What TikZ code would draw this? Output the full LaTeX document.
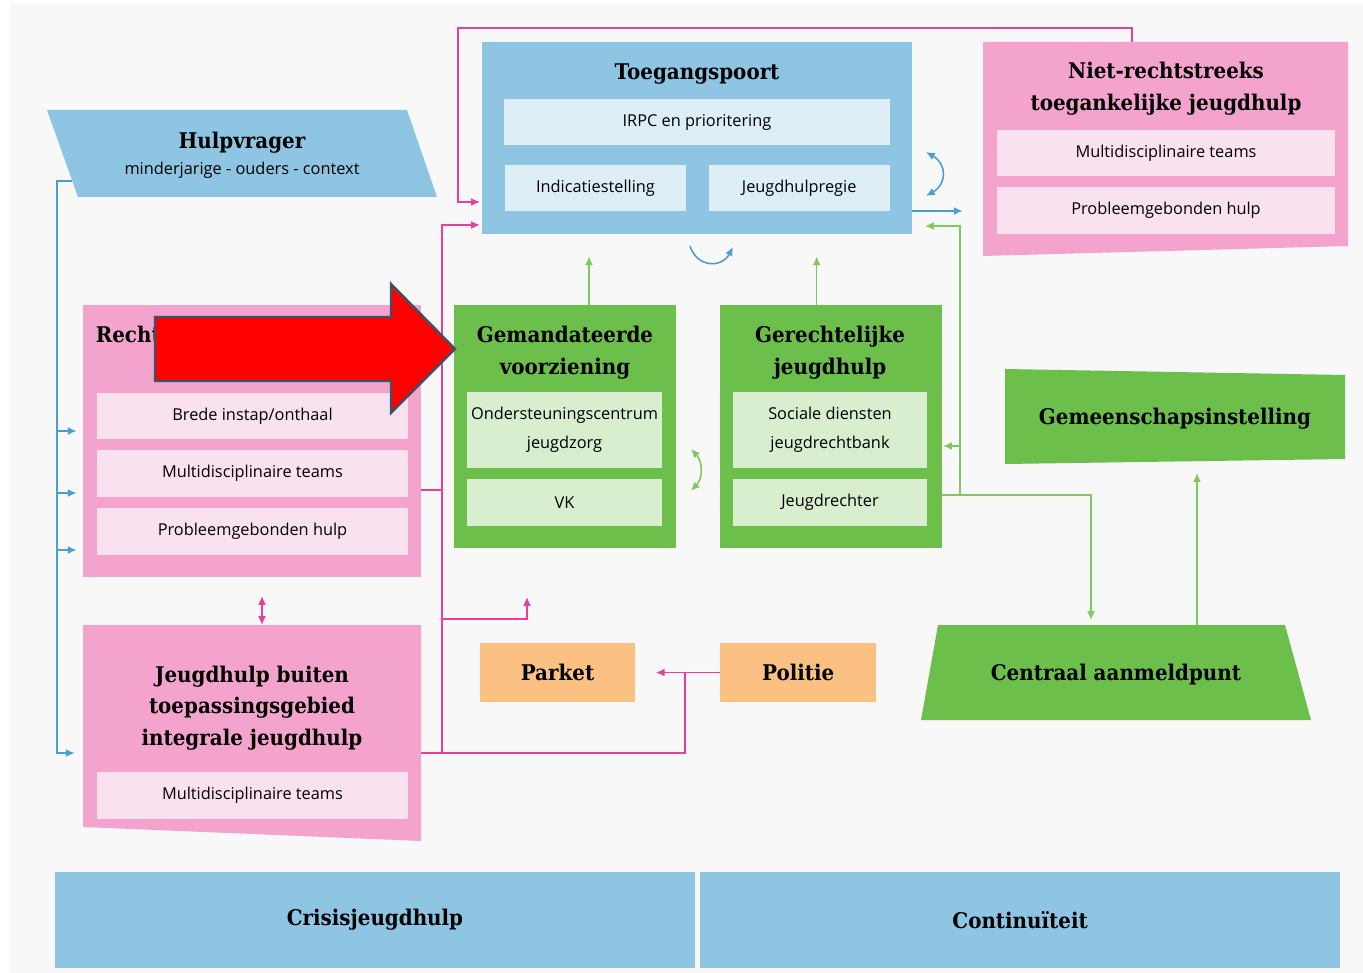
\documentclass[tikz,border=0pt]{standalone}
\usepackage{fontspec}
\setmainfont{Open Sans}
\newfontfamily\kopfont{DejaVu Serif}[FakeStretch=0.92]
\usetikzlibrary{positioning,arrows.meta}

\definecolor{tpblauw}{HTML}{8EC5E2}
\definecolor{tpblauwlicht}{HTML}{DDEEF7}
\definecolor{roze}{HTML}{F4A3CD}
\definecolor{rozelicht}{HTML}{FAE1EF}
\definecolor{groen}{HTML}{6CBF4B}
\definecolor{groenlicht}{HTML}{D9EDCF}
\definecolor{oranje}{HTML}{FBC183}
\definecolor{lijnroze}{HTML}{E8409A}
\definecolor{lijnblauw}{HTML}{4A9FD0}
\definecolor{lijngroen}{HTML}{80C95E}
\definecolor{achtergrond}{HTML}{F8F8F8}
\definecolor{pijlrand}{HTML}{3B5366}

\tikzset{kop/.style={font=\kopfont\bfseries\fontsize{12.3}{18}\selectfont,align=center,inner sep=0pt},
         sub/.style={font=\fontsize{9.3}{16.4}\selectfont,align=center,inner sep=0pt,minimum height=0.94cm},
         blauwsub/.style={sub,fill=tpblauwlicht},
         rozesub/.style={sub,fill=rozelicht,minimum width=6.22cm},
         groensub/.style={sub,fill=groenlicht,minimum width=3.9cm},
         blok/.style={inner sep=0pt},
         orbox/.style={kop,fill=oranje,minimum width=3.12cm,minimum height=1.18cm},
         balk/.style={kop,fill=tpblauw,minimum width=12.79cm,minimum height=1.92cm},
         bline/.style={draw=lijnblauw,line width=0.9pt},
         pline/.style={draw=lijnroze,line width=0.9pt},
         gline/.style={draw=lijngroen,line width=0.9pt},
         >={Latex[length=5pt,width=4.5pt]},
            }

\begin{document}
\begin{tikzpicture}[x=0.02cm,y=-0.02cm]
    \useasboundingbox (0,0) rectangle (1363,973);
    \fill[white] (0,0) rectangle (1363,973);
    \fill[achtergrond] (10,4) rectangle (1363,973);

    % schuine vlakken
    \fill[tpblauw] (47,110) -- (407,110) -- (437,197) -- (78,197) -- cycle;
    \fill[roze] (983,42) -- (1348,42) -- (1348,246) -- (983,256) -- cycle;
    \fill[groen] (1005,369) -- (1345,375) -- (1345,459) -- (1005,464) -- cycle;
    \fill[groen] (938,625) -- (1285,625) -- (1311,720) -- (921,720) -- cycle;
    \fill[roze] (83,625) -- (421,625) -- (421,841) -- (83,827) -- cycle;

    % hulpvrager
    \node[kop] (hulp) at (242,143) {Hulpvrager};
    \node[sub,minimum height=0pt] (hulpsub) at (242,170) {minderjarige - ouders - context};

    % toegangspoort
    \node[blok,fill=tpblauw,minimum width=8.6cm,minimum height=3.84cm] (toegang) at (697,138) {};
    \node[kop] (toegangkop) at (697,74) {Toegangspoort};
    \node[blauwsub,minimum width=7.72cm] (irpc) at (697,122) {IRPC en prioritering};
    \node[blauwsub,minimum width=3.62cm] (indic) at (595.5,188) {Indicatiestelling};
    \node[blauwsub,minimum width=3.62cm] (regie) [right=0.44cm of indic] {Jeugdhulpregie};

    % niet-rechtstreeks toegankelijk
    \node[blok,minimum width=7.3cm,minimum height=4.08cm] (niet) at (1165.5,144) {};
    \node[kop] (nietkop) at (1166,89) {Niet-rechtstreeks\\toegankelijke jeugdhulp};
    \node[rozesub,minimum width=6.76cm] (niet1) at (1166,153) {Multidisciplinaire teams};
    \node[rozesub,minimum width=6.76cm] (niet2) [below=0.2cm of niet1] {Probleemgebonden hulp};

    % rechtstreeks toegankelijk
    \node[blok,fill=roze,minimum width=6.76cm,minimum height=5.44cm] (recht) at (252,441) {};
    \node[kop] (rechtkop) at (248,353) {Rechtstreeks toegankelijke\\jeugdhulp};
    \node[rozesub] (brede) at (252.5,416) {Brede instap/onthaal};
    \node[rozesub] (recht2) [below=0.2cm of brede] {Multidisciplinaire teams};
    \node[rozesub] (recht3) [below=0.2cm of recht2] {Probleemgebonden hulp};

    % gemandateerde voorziening
    \node[blok,fill=groen,minimum width=4.44cm,minimum height=4.86cm] (gemand) at (565,426.5) {};
    \node[kop] (gemandkop) at (565,353) {Gemandateerde\\voorziening};
    \node[groensub,minimum height=1.52cm] (ocj) at (564.5,430) {Ondersteuningscentrum\\jeugdzorg};
    \node[groensub] (vk) [below=0.2cm of ocj] {VK};

    % gerechtelijke jeugdhulp
    \node[blok,fill=groen,minimum width=4.44cm,minimum height=4.86cm] (gerecht) [right=0.86cm of gemand] {};
    \node[kop] (gerechtkop) at (830,353) {Gerechtelijke\\jeugdhulp};
    \node[groensub,minimum height=1.52cm] (sociaal) at (830,430) {Sociale diensten\\jeugdrechtbank};
    \node[groensub] (jrechter) [below=0.2cm of sociaal] {Jeugdrechter};

    \node[kop] (gemeensch) at (1175,419) {Gemeenschapsinstelling};
    \node[kop] (cap) at (1116,675) {Centraal aanmeldpunt};

    \node[orbox] (parket) at (557.5,672.5) {Parket};
    \node[orbox] (politie) [right=1.68cm of parket] {Politie};

    % jeugdhulp buiten toepassingsgebied
    \node[blok,minimum width=6.76cm,minimum height=4.32cm] (buiten) at (252,733) {};
    \node[kop] (buitenkop) at (252,708) {Jeugdhulp buiten\\toepassingsgebied\\integrale jeugdhulp};
    \node[rozesub] (buiten1) at (252.5,795.5) {Multidisciplinaire teams};

    \node[balk] (crisis) at (375,920) {Crisisjeugdhulp};
    \node[balk] (cont) [right=0.1cm of crisis] {Continuïteit};

    % blauwe lijnen
    \coordinate (hv) at (72,181);
    \coordinate (bh) at (57,181);
    \coordinate (bb) at (57,753);
    \draw[bline,->,shorten >=0.16cm] (hv) -- (bh) -- (bb) -- (bb -| buiten.west);
    \foreach \y in {431,493,550}{
        \coordinate (bt) at (57,\y);
        \draw[bline,->,shorten >=0.12cm] (bt) -- (bt -| recht.west);
    }
    \coordinate (tr) at (912,211);
    \draw[bline,->,shorten >=0.4cm] (tr) -- (tr -| niet.west);
    \draw[bline,<->] (926,152) .. controls (947,164) and (947,184) .. (926,196);
    \draw[bline,->] (690,246) .. controls (697,268) and (722,268) .. (733,247);

    % roze lijnen
    \coordinate (nt) at (1132,42);
    \coordinate (tl1) at (482,202);
    \coordinate (tl2) at (482,225);
    \draw[pline,->,shorten >=0.04cm] (nt) |- (458,28) |- (tl1);
    \coordinate (pb) at (442,753);
    \draw[pline,->,shorten >=0.04cm] (pb) |- (tl2);
    \coordinate (r1) at (421,490);
    \draw[pline] (r1) -- (r1 -| pb);
    \coordinate (bu) at (421,753);
    \draw[pline] (bu) -- (685,753) -- (685,672.5);
    \draw[pline,->,shorten >=0.4cm] (politie) -- (parket);
    \draw[pline,->] (442,619) -| (527,597);
    \draw[pline,<->] (262,596) -- (262,625);

    % groene lijnen
    \draw[gline,->,shorten >=0.44cm] ([xshift=0.48cm]gemand.north) -- ([xshift=0.48cm]gemand.north |- toegang.south);
    \draw[gline,->,shorten >=0.44cm] ([xshift=-0.28cm]gerecht.north) -- ([xshift=-0.28cm]gerecht.north |- toegang.south);
    \coordinate (ge) at (941,495);
    \coordinate (gj) at (960,495);
    \coordinate (tr2) at (912,226);
    \coordinate (gs) at (941,446);
    \coordinate (ct) at (1091,625);
    \coordinate (cg) at (1197,625);
    \draw[gline,->,shorten >=0.26cm] (ge) -- (gj) |- (tr2);
    \draw[gline,->,shorten >=0.04cm] (gj |- gs) -- (gs);
    \draw[gline,->,shorten >=0.1cm] (gj) -| (ct);
    \draw[gline,->,shorten >=0.24cm] (cg) -- (1197,461);
    \draw[gline,<->] (691,449) .. controls (703,462) and (703,478) .. (691,491);

    % rode pijl
    \draw[pijlrand,fill=red,line width=1.4pt] (155,317) -- (391,317) -- (391,284) -- (455,349) -- (391,413) -- (391,381) -- (155,381) -- cycle;
\end{tikzpicture}
\end{document}
